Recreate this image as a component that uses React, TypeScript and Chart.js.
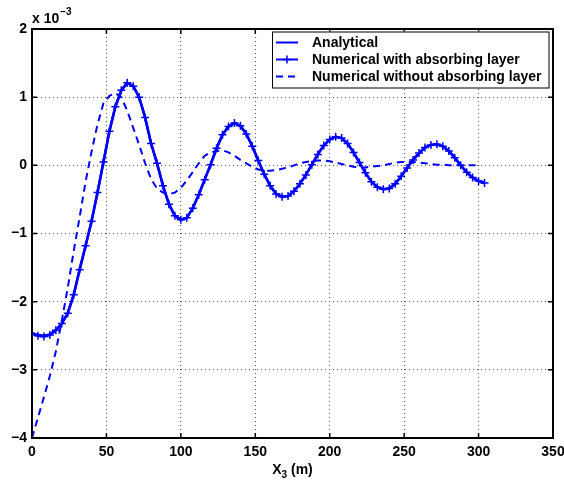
import React, { useEffect, useRef } from "react";
import { Chart, registerables } from "chart.js";

Chart.register(...registerables);

// x positions (m) of the sampled traces
const xSolid = [0,4,8,12,16,20,24,28,32,36,40,44,48,52,56,60,64,68,72,76,80,84,88,92,96,100,104,108,112,116,120,124,128,132,136,140,144,148,152,156,160,164,168,172,176,180,184,188,192,196,200,204,208,212,216,220,224,228,232,236,240,244,248,252,256,260,264,268,272,276,280,284,288,292,296,300,304];
// values in units of 1e-3
const analytical = [-2.46,-2.49,-2.50,-2.48,-2.42,-2.32,-2.17,-1.90,-1.53,-1.18,-0.82,-0.40,0.05,0.50,0.86,1.10,1.21,1.16,1.00,0.70,0.32,0.03,-0.30,-0.57,-0.74,-0.80,-0.77,-0.63,-0.43,-0.21,0.01,0.25,0.45,0.57,0.62,0.58,0.46,0.28,0.07,-0.13,-0.30,-0.42,-0.46,-0.45,-0.38,-0.27,-0.14,0.01,0.16,0.29,0.38,0.42,0.40,0.32,0.19,0.04,-0.11,-0.24,-0.32,-0.35,-0.34,-0.27,-0.16,-0.04,0.08,0.18,0.26,0.30,0.31,0.28,0.21,0.11,0.00,-0.10,-0.18,-0.23,-0.26];
const withLayer = [-2.47,-2.50,-2.51,-2.49,-2.42,-2.32,-2.17,-1.90,-1.53,-1.18,-0.82,-0.40,0.05,0.50,0.86,1.10,1.21,1.16,1.00,0.70,0.32,0.03,-0.30,-0.57,-0.74,-0.80,-0.77,-0.63,-0.43,-0.21,0.01,0.25,0.45,0.57,0.62,0.58,0.46,0.28,0.07,-0.13,-0.30,-0.42,-0.46,-0.45,-0.38,-0.27,-0.14,0.01,0.16,0.29,0.38,0.42,0.40,0.32,0.19,0.04,-0.11,-0.24,-0.32,-0.35,-0.34,-0.27,-0.16,-0.04,0.08,0.18,0.26,0.30,0.31,0.28,0.21,0.11,0.00,-0.10,-0.18,-0.23,-0.26];
const xDashed = [0,4,8,12,16,20,24,28,32,36,40,44,48,52,56,60,64,68,72,76,80,84,88,92,96,100,104,108,112,116,120,124,128,132,136,140,144,148,152,156,160,164,168,172,176,180,184,188,192,196,200,204,208,212,216,220,224,228,232,236,240,244,248,252,256,260,264,268,272,276,280,284,288,292,296,300];
const withoutLayer = [-4.00,-3.70,-3.40,-3.09,-2.73,-2.28,-1.80,-1.26,-0.76,-0.24,0.20,0.60,0.91,1.02,1.06,1.00,0.80,0.55,0.30,0.03,-0.20,-0.34,-0.40,-0.42,-0.40,-0.33,-0.22,-0.10,0.03,0.14,0.19,0.21,0.22,0.19,0.14,0.08,0.03,-0.02,-0.06,-0.08,-0.08,-0.07,-0.05,-0.03,0.00,0.03,0.05,0.06,0.07,0.07,0.06,0.04,0.02,0.00,-0.02,-0.03,-0.03,-0.02,-0.01,0.00,0.02,0.04,0.05,0.05,0.05,0.04,0.03,0.02,0.01,0.01,0.00,0.00,0.00,0.00,0.00,0.00];

const seriesLabels = ["Analytical", "Numerical with absorbing layer", "Numerical without absorbing layer"];
const xRange = [0, 350];
const yRange = [-4, 2];
const xStep = 50;
const yStep = 1;
const exponentBase = "x 10";
const exponentPower = "\u22123";
const xTitleMain = "X";
const xTitleSub = "3";
const xTitleRest = " (m)";

const FONT = "'Liberation Sans', Arial, Helvetica, sans-serif";
const BLUE = "#0000ff";

const pts = (xs: number[], ys: number[]) => xs.map((x, i) => ({ x, y: ys[i] }));

const decorPlugin = {
  id: "decor",
  afterDatasetsDraw(chart: any) {
    const ctx = chart.ctx;
    const a = chart.chartArea;
    const xs = chart.scales.x;
    const ys = chart.scales.y;
    ctx.save();
    // box
    ctx.strokeStyle = "#000";
    ctx.lineWidth = 2;
    ctx.strokeRect(a.left, a.top, a.right - a.left, a.bottom - a.top);
    // inward ticks
    ctx.lineWidth = 1.5;
    const tl = 5;
    xs.ticks.forEach((t: any) => {
      const px = xs.getPixelForValue(t.value);
      ctx.beginPath();
      ctx.moveTo(px, a.bottom);
      ctx.lineTo(px, a.bottom - tl);
      ctx.moveTo(px, a.top);
      ctx.lineTo(px, a.top + tl);
      ctx.stroke();
    });
    ys.ticks.forEach((t: any) => {
      const py = ys.getPixelForValue(t.value);
      ctx.beginPath();
      ctx.moveTo(a.left, py);
      ctx.lineTo(a.left + tl, py);
      ctx.moveTo(a.right, py);
      ctx.lineTo(a.right - tl, py);
      ctx.stroke();
    });
    // exponent label
    ctx.fillStyle = "#000";
    ctx.textAlign = "left";
    ctx.textBaseline = "alphabetic";
    ctx.font = `bold 14px ${FONT}`;
    ctx.fillText(exponentBase, a.left, a.top - 6);
    const w0 = ctx.measureText(exponentBase).width;
    ctx.font = `bold 10px ${FONT}`;
    ctx.fillText(exponentPower, a.left + w0 + 1, a.top - 14);
    // x title
    ctx.font = `bold 14px ${FONT}`;
    const wX = ctx.measureText(xTitleMain).width;
    const wR = ctx.measureText(xTitleRest).width;
    ctx.font = `bold 10px ${FONT}`;
    const wS = ctx.measureText(xTitleSub).width;
    const total = wX + wS + wR;
    const cx = (a.left + a.right) / 2;
    let tx = cx - total / 2;
    const base = a.bottom + 36;
    ctx.font = `bold 14px ${FONT}`;
    ctx.fillText(xTitleMain, tx, base);
    tx += wX;
    ctx.font = `bold 10px ${FONT}`;
    ctx.fillText(xTitleSub, tx, base + 4);
    tx += wS;
    ctx.font = `bold 14px ${FONT}`;
    ctx.fillText(xTitleRest, tx, base);
    // legend
    const lx = a.right - 281;
    const ly = a.top + 2.5;
    const lw = 276.5;
    const lh = 56;
    ctx.fillStyle = "#fff";
    ctx.fillRect(lx, ly, lw, lh);
    ctx.strokeStyle = "#000";
    ctx.lineWidth = 1;
    ctx.strokeRect(lx + 0.5, ly + 0.5, lw, lh);
    const dsets = chart.data.datasets;
    dsets.forEach((ds: any, i: number) => {
      const ry = ly + 11 + i * 17;
      const x0 = lx + 4;
      const x1 = lx + 26;
      ctx.strokeStyle = ds.borderColor;
      ctx.lineWidth = 2;
      ctx.setLineDash(ds.borderDash || []);
      ctx.beginPath();
      ctx.moveTo(x0, ry);
      ctx.lineTo(x1, ry);
      ctx.stroke();
      ctx.setLineDash([]);
      if (ds.pointRadius > 0) {
        const mx = (x0 + x1) / 2;
        ctx.lineWidth = 1.5;
        ctx.beginPath();
        ctx.moveTo(mx - 4, ry);
        ctx.lineTo(mx + 4, ry);
        ctx.moveTo(mx, ry - 4);
        ctx.lineTo(mx, ry + 4);
        ctx.stroke();
      }
      ctx.fillStyle = "#000";
      ctx.font = `bold 14px ${FONT}`;
      ctx.textBaseline = "middle";
      ctx.fillText(ds.label, lx + 40, ry + 0.5);
      ctx.textBaseline = "alphabetic";
    });
    ctx.restore();
  },
};

export default function App() {
  const ref = useRef<HTMLCanvasElement | null>(null);
  useEffect(() => {
    if (!ref.current) return;
    const chart = new Chart(ref.current, {
      type: "line",
      data: {
        datasets: [
          {
            label: seriesLabels[0],
            data: pts(xSolid, analytical),
            borderColor: BLUE,
            backgroundColor: BLUE,
            borderWidth: 2.5,
            pointRadius: 0,
            tension: 0,
          },
          {
            label: seriesLabels[1],
            data: pts(xSolid, withLayer),
            borderColor: BLUE,
            backgroundColor: BLUE,
            borderWidth: 2.5,
            pointStyle: "cross",
            pointRadius: 4,
            pointBorderWidth: 1.5,
            pointBorderColor: BLUE,
            tension: 0,
          },
          {
            label: seriesLabels[2],
            data: pts(xDashed, withoutLayer),
            borderColor: BLUE,
            backgroundColor: BLUE,
            borderWidth: 2,
            borderDash: [7, 5],
            pointRadius: 0,
            tension: 0,
          },
        ],
      },
      options: {
        animation: false,
        responsive: false,
        layout: { padding: { top: 29, right: 11, left: 0, bottom: 0 } },
        plugins: { legend: { display: false }, tooltip: { enabled: false } },
        scales: {
          x: {
            type: "linear",
            min: xRange[0],
            max: xRange[1],
            ticks: {
              stepSize: xStep,
              color: "#000",
              font: { family: FONT, size: 14, weight: "bold" },
              padding: 6,
              maxRotation: 0,
            },
            grid: { color: "#555", lineWidth: 1, drawTicks: false },
            border: { display: true, color: "#000", width: 2, dash: [1, 3] },
            afterFit: (s: any) => {
              s.height = 45;
              s.paddingLeft = 0;
              s.paddingRight = 0;
            },
          },
          y: {
            type: "linear",
            min: yRange[0],
            max: yRange[1],
            ticks: {
              stepSize: yStep,
              color: "#000",
              font: { family: FONT, size: 14, weight: "bold" },
              padding: 5,
              callback: (v: any) => (v < 0 ? "\u2212" + Math.abs(v) : String(v)),
            },
            grid: { color: "#555", lineWidth: 1, drawTicks: false },
            border: { display: true, color: "#000", width: 2, dash: [1, 3] },
            afterFit: (s: any) => {
              s.width = 32;
              s.paddingTop = 0;
              s.paddingBottom = 0;
            },
          },
        },
      },
      plugins: [decorPlugin],
    } as any);
    return () => chart.destroy();
  }, []);
  return (
    <div style={{ position: "fixed", left: 0, top: 0, width: 564, height: 483, background: "#fff" }}>
      <canvas ref={ref} width={564} height={483} style={{ display: "block" }} />
    </div>
  );
}
